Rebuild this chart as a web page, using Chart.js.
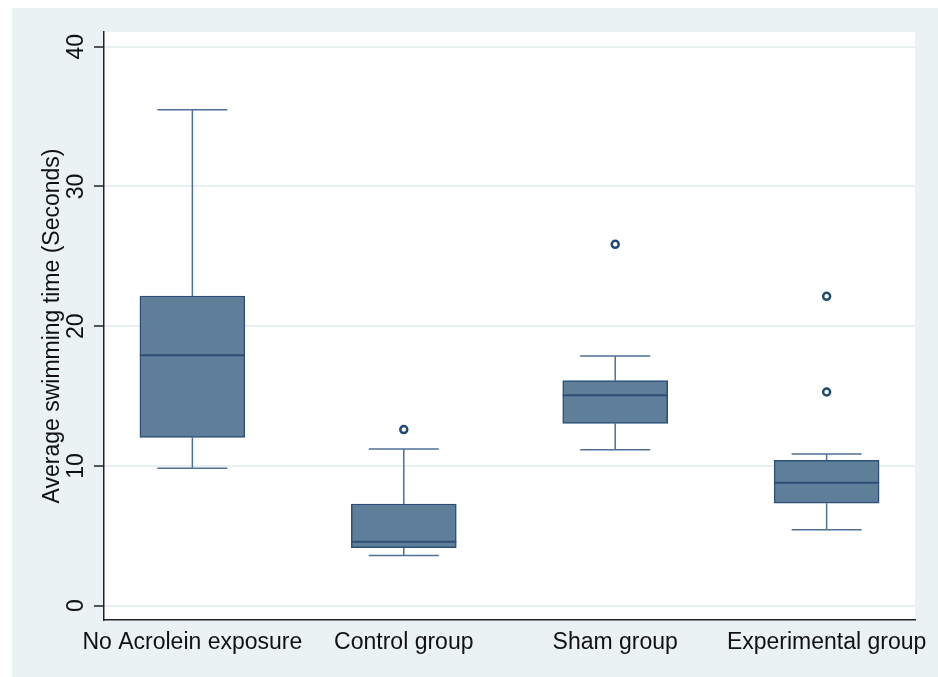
<!DOCTYPE html>
<html>
<head>
<meta charset="utf-8">
<script src="https://cdn.jsdelivr.net/npm/chart.js@4/dist/chart.umd.min.js"></script>
<style>
  html, body { margin: 0; padding: 0; background: #ffffff; }
  #wrap { width: 938px; height: 677px; }
</style>
</head>
<body>
<div id="wrap"><canvas id="c" width="938" height="677"></canvas></div>
<script>
// ---- data ----
const categories = ['No Acrolein exposure', 'Control group', 'Sham group', 'Experimental group'];
const whiskerLow  = [9.83, 3.60, 11.16, 5.44];
const q1          = [12.05, 4.15, 13.05, 7.33];
const median      = [17.92, 4.58, 15.06, 8.80];
const q3          = [22.16, 7.28, 16.10, 10.40];
const whiskerHigh = [35.49, 11.21, 17.87, 10.86];
const outliers    = [[], [12.6], [25.86], [22.14, 15.29]];
const yTickValues = [0, 10, 20, 30, 40];
const yTitle = 'Average swimming time (Seconds)';

// ---- styles ----
const boxFill = '#5F7E9A';
const boxLine = '#2B4F76';
const whiskerColor = '#4F7094';
const gridColor = '#E8F0F2';
const outerBg = '#EAF2F3';
const textColor = '#111111';
const capHalf = 35;

const positions = categories.map((c, i) => i + 1);
const boxData = positions.map((p, i) => ({ x: p, y: [q1[i], q3[i]] }));
const outlierData = [];
outliers.forEach((arr, i) => arr.forEach(v => outlierData.push({ x: positions[i], y: v })));

const bgPlugin = {
  id: 'bg',
  beforeDraw(chart) {
    const { ctx, chartArea: a } = chart;
    ctx.save();
    ctx.fillStyle = '#ffffff';
    ctx.fillRect(0, 0, chart.width, chart.height);
    ctx.fillStyle = outerBg;
    ctx.fillRect(12, 8, chart.width - 12, chart.height - 8);
    ctx.fillStyle = '#ffffff';
    ctx.fillRect(a.left, a.top, a.right - a.left, a.bottom - a.top);
    ctx.restore();
  }
};

const boxPlugin = {
  id: 'boxparts',
  afterDatasetsDraw(chart) {
    const { ctx } = chart;
    const ys = chart.scales.y;
    const meta = chart.getDatasetMeta(0);
    ctx.save();
    categories.forEach((c, i) => {
      const bar = meta.data[i];
      const cx = bar.x;
      const hw = bar.width / 2;
      const yHi = ys.getPixelForValue(whiskerHigh[i]);
      const yLo = ys.getPixelForValue(whiskerLow[i]);
      const yQ1 = ys.getPixelForValue(q1[i]);
      const yQ3 = ys.getPixelForValue(q3[i]);
      const yMed = ys.getPixelForValue(median[i]);
      ctx.strokeStyle = whiskerColor;
      ctx.lineWidth = 1.5;
      ctx.beginPath();
      ctx.moveTo(cx, yQ3); ctx.lineTo(cx, yHi);
      ctx.moveTo(cx - capHalf, yHi); ctx.lineTo(cx + capHalf, yHi);
      ctx.moveTo(cx, yQ1); ctx.lineTo(cx, yLo);
      ctx.moveTo(cx - capHalf, yLo); ctx.lineTo(cx + capHalf, yLo);
      ctx.stroke();
      ctx.strokeStyle = boxLine;
      ctx.lineWidth = 2;
      ctx.beginPath();
      ctx.moveTo(cx - hw, yMed); ctx.lineTo(cx + hw, yMed);
      ctx.stroke();
    });
    ctx.restore();
  }
};

new Chart(document.getElementById('c'), {
  type: 'bar',
  data: {
    datasets: [
      {
        type: 'bar',
        data: boxData,
        backgroundColor: boxFill,
        borderColor: boxLine,
        borderWidth: 1.5,
        borderSkipped: false,
        barThickness: 105
      },
      {
        type: 'scatter',
        data: outlierData,
        pointStyle: 'circle',
        pointRadius: 3.5,
        borderWidth: 2.5,
        borderColor: '#1F4A73',
        backgroundColor: '#ffffff'
      }
    ]
  },
  options: {
    responsive: false,
    devicePixelRatio: 1,
    animation: false,
    layout: { padding: { top: 32, right: 23, left: 0, bottom: 0 } },
    plugins: { legend: { display: false }, tooltip: { enabled: false } },
    scales: {
      x: {
        type: 'linear',
        offset: false,
        min: 0.582,
        max: 4.418,
        afterBuildTicks(scale) { scale.ticks = positions.map(v => ({ value: v })); },
        afterFit(scale) { scale.height = 57; },
        grid: { display: false, drawTicks: false },
        border: { display: true, color: '#222222', width: 1.5 },
        ticks: {
          autoSkip: false,
          maxRotation: 0,
          minRotation: 0,
          padding: 9,
          color: textColor,
          font: { family: '"Liberation Sans", Arial, sans-serif', size: 23 },
          callback: (v) => categories[Math.round(v) - 1] || ''
        }
      },
      y: {
        type: 'linear',
        min: -1.023,
        max: 41.05,
        afterBuildTicks(scale) { scale.ticks = yTickValues.map(v => ({ value: v })); },
        afterFit(scale) { scale.width = 104; },
        grid: { color: gridColor, lineWidth: 2, tickColor: '#222222', tickLength: 10, tickWidth: 1.5 },
        border: { display: true, color: '#222222', width: 1.5 },
        ticks: {
          minRotation: 90,
          maxRotation: 90,
          crossAlign: 'center',
          padding: 4.7,
          color: textColor,
          font: { family: '"Liberation Sans", Arial, sans-serif', size: 23 }
        },
        title: {
          display: true,
          text: yTitle,
          color: textColor,
          font: { family: '"Liberation Sans", Arial, sans-serif', size: 23 },
          padding: { top: 39, bottom: 0 }
        }
      }
    }
  },
  plugins: [bgPlugin, boxPlugin]
});
</script>
</body>
</html>
